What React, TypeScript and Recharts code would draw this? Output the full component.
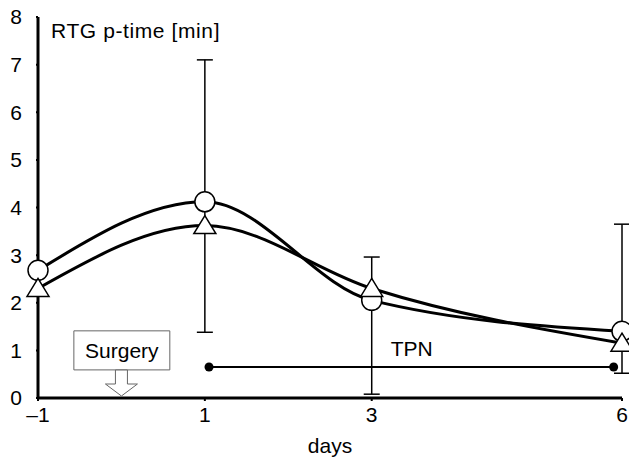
import React from "react";
import {
    ComposedChart,
    Line,
    XAxis,
    YAxis,
    ErrorBar,
    ReferenceArea,
    ReferenceDot,
    Customized
} from "recharts";

// days after surgery
const days = [-1, 1, 3, 6];
// circle series (with SD bars)
const circleMean = [2.68, 4.12, 2.05, 1.4];
const circleLow = [2.68, 1.38, 0.08, 0.52];
const circleHigh = [2.68, 7.1, 2.96, 3.65];
// triangle series
const triangleMean = [2.3, 3.62, 2.3, 1.15];

const yTicks = [0, 1, 2, 3, 4, 5, 6, 7, 8];
const xTicks = [-1, 1, 3, 6];

// TPN period
const tpnDays = [1.05, 5.9];
const tpnLevel = 0.65;

// Surgery box
const surgeryBox = { x1: -0.57, x2: 0.58, y1: 0.59, y2: 1.41 };
const surgeryDay = 0;

const FONT = "'Liberation Sans', Arial, sans-serif";
const FS = 21;

const data = days.map((d, i) => ({
    day: d,
    circle: circleMean[i],
    triangle: triangleMean[i],
    err: [circleMean[i] - circleLow[i], circleHigh[i] - circleMean[i]]
}));

const tpnData = tpnDays.map((d) => ({ day: d, tpn: tpnLevel }));

const CircleDot = (props: any) => {
    const { cx, cy } = props;
    if (cx == null || cy == null) return null;
    return <circle cx={cx} cy={cy} r={10} fill="#fff" stroke="#000" strokeWidth={1.5} />;
};

const TriangleDot = (props: any) => {
    const { cx, cy } = props;
    if (cx == null || cy == null) return null;
    const pts = `${cx},${cy - 10} ${cx + 11},${cy + 8} ${cx - 11},${cy + 8}`;
    return <polygon points={pts} fill="#fff" stroke="#000" strokeWidth={1.5} />;
};

const TpnDot = (props: any) => {
    const { cx, cy } = props;
    if (cx == null || cy == null) return null;
    return <circle cx={cx} cy={cy} r={4.5} fill="#000" stroke="none" />;
};

// hollow arrow pointing down to the surgery day
const SurgeryArrow = (props: any) => {
    const { cx, cy } = props;
    if (cx == null || cy == null) return null;
    const pts = [
        [cx - 6, cy - 28],
        [cx + 6, cy - 28],
        [cx + 6, cy - 14],
        [cx + 16, cy - 14],
        [cx, cy - 2],
        [cx - 16, cy - 14],
        [cx - 6, cy - 14]
    ]
        .map((p) => p.join(","))
        .join(" ");
    return <polygon points={pts} fill="#fff" stroke="#666" strokeWidth={1} />;
};

const Title = () => (
    <text x={51} y={38} fontSize={FS} fontFamily={FONT} fill="#000" letterSpacing={0.6}>
        RTG p-time [min]
    </text>
);

export default function App() {
    return (
        <div style={{ position: "absolute", left: 0, top: 0, background: "#fff" }}>
            <ComposedChart
                width={629}
                height={458}
                data={data}
                margin={{ top: 17, right: 7, bottom: 0, left: 0 }}
            >
                <XAxis
                    dataKey="day"
                    type="number"
                    domain={[-1, 6]}
                    ticks={xTicks}
                    tickFormatter={(v) => (v < 0 ? `\u2013${Math.abs(v)}` : `${v}`)}
                    height={60}
                    tickSize={3}
                    tickMargin={6}
                    axisLine={{ stroke: "#000", strokeWidth: 3 }}
                    tickLine={{ stroke: "#000", strokeWidth: 2 }}
                    tick={{ fontSize: FS, fontFamily: FONT, fill: "#000" }}
                    label={{
                        value: "days",
                        position: "insideBottom",
                        offset: 5,
                        fontSize: FS,
                        fontFamily: FONT,
                        fill: "#000"
                    }}
                />
                <YAxis
                    type="number"
                    domain={[0, 8]}
                    ticks={yTicks}
                    width={38}
                    tickSize={2}
                    tickMargin={14}
                    axisLine={{ stroke: "#000", strokeWidth: 3 }}
                    tickLine={{ stroke: "#000", strokeWidth: 2 }}
                    tick={{ fontSize: FS, fontFamily: FONT, fill: "#000" }}
                />
                <ReferenceDot
                    x={surgeryDay}
                    y={0}
                    r={0}
                    shape={<SurgeryArrow />}
                    ifOverflow="visible"
                />
                <ReferenceArea
                    x1={surgeryBox.x1}
                    x2={surgeryBox.x2}
                    y1={surgeryBox.y1}
                    y2={surgeryBox.y2}
                    fill="#fff"
                    fillOpacity={1}
                    stroke="#666"
                    strokeWidth={1}
                    label={{
                        value: "Surgery",
                        position: "center",
                        fontSize: FS,
                        fontFamily: FONT,
                        fill: "#000"
                    }}
                />
                <Line
                    data={tpnData}
                    dataKey="tpn"
                    type="linear"
                    stroke="#000"
                    strokeWidth={2}
                    dot={<TpnDot />}
                    activeDot={false}
                    isAnimationActive={false}
                />
                <ReferenceDot
                    x={3.48}
                    y={1.03}
                    r={0}
                    fill="none"
                    stroke="none"
                    label={{
                        value: "TPN",
                        position: "center",
                        fontSize: FS,
                        fontFamily: FONT,
                        fill: "#000"
                    }}
                />
                <Line
                    dataKey="circle"
                    type="monotone"
                    stroke="#000"
                    strokeWidth={3}
                    dot={<CircleDot />}
                    activeDot={false}
                    isAnimationActive={false}
                >
                    <ErrorBar dataKey="err" width={8} stroke="#000" strokeWidth={1.5} direction="y" />
                </Line>
                <Line
                    dataKey="triangle"
                    type="monotone"
                    stroke="#000"
                    strokeWidth={3}
                    dot={<TriangleDot />}
                    activeDot={false}
                    isAnimationActive={false}
                />
                <Customized component={Title} />
            </ComposedChart>
        </div>
    );
}
